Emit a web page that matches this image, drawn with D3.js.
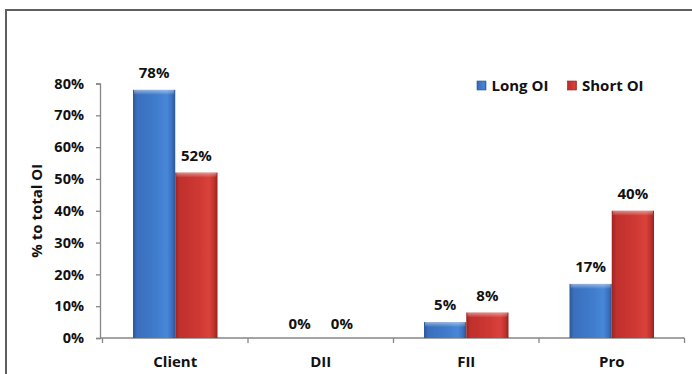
<!DOCTYPE html>
<html>
<head>
<meta charset="utf-8">
<script src="https://cdn.jsdelivr.net/npm/d3@7"></script>
<style>
  html, body { margin: 0; padding: 0; background: #fff; }
  svg { display: block; font-family: "Open Sans", "Lato", sans-serif; font-weight: 700; }
</style>
</head>
<body>
<svg id="chart" width="692" height="374"></svg>
<script>
// Share of total open interest by participant type
const categories = ["Client", "DII", "FII", "Pro"];
const longOI  = [78, 0, 5, 17];
const shortOI = [52, 0, 8, 40];
const seriesNames = ["Long OI", "Short OI"];
const yTicks = [0, 10, 20, 30, 40, 50, 60, 70, 80];

const svg = d3.select("#chart");
const margin = { left: 100 };

// outer chart frame
svg.append("rect")
  .attr("x", 6).attr("y", 10)
  .attr("width", 720).attr("height", 400)
  .attr("fill", "#fff").attr("stroke", "#5f5f5f").attr("stroke-width", 2);

const x0 = d3.scaleBand().domain(categories).range([102.5, 684.5]).paddingInner(0).paddingOuter(0);
const x1 = d3.scaleBand().domain(seriesNames).range([0, 84.5]);
const y = d3.scaleLinear().domain([0, 80]).range([338, 83.5]);

// gradients for the bevelled bars
const defs = svg.append("defs");
function barGradient(id, stops) {
  const g = defs.append("linearGradient").attr("id", id)
    .attr("x1", "0%").attr("x2", "100%").attr("y1", "0%").attr("y2", "0%");
  stops.forEach(([o, c]) => g.append("stop").attr("offset", o).attr("stop-color", c));
}
barGradient("gBlue", [["0%", "#2b5797"], ["10%", "#3a6fbd"], ["55%", "#3f7ccc"], ["80%", "#4887d8"], ["92%", "#3b71bf"], ["100%", "#2a5594"]]);
barGradient("gRed", [["0%", "#9c2422"], ["10%", "#bf302c"], ["55%", "#cf3833"], ["80%", "#d9423b"], ["92%", "#c0322d"], ["100%", "#952220"]]);
const topShine = defs.append("linearGradient").attr("id", "gTop")
  .attr("x1", "0%").attr("x2", "0%").attr("y1", "0%").attr("y2", "100%");
topShine.append("stop").attr("offset", "0%").attr("stop-color", "#fff").attr("stop-opacity", 0.45);
topShine.append("stop").attr("offset", "100%").attr("stop-color", "#fff").attr("stop-opacity", 0);

const blur = defs.append("filter").attr("id", "soft").attr("x", "-20%").attr("y", "-20%").attr("width", "140%").attr("height", "140%");
blur.append("feGaussianBlur").attr("stdDeviation", 0.5);

const fills = { "Long OI": "url(#gBlue)", "Short OI": "url(#gRed)" };

// y axis
const yAxis = d3.axisLeft(y).tickValues(yTicks).tickFormat(d => d + "%").tickSize(4).tickPadding(12);
const gy = svg.append("g").attr("transform", `translate(${margin.left},0)`).call(yAxis);
gy.select(".domain").attr("stroke", "#868686").attr("stroke-width", 1.3);
gy.selectAll(".tick line").attr("stroke", "#868686").attr("stroke-width", 1.3);
gy.selectAll(".tick text").attr("font-size", 14.5).attr("font-weight", 700)
  .attr("font-family", "'Open Sans', sans-serif").attr("fill", "#111");

// x axis with ticks at category boundaries
const gx = svg.append("g").attr("transform", `translate(0,${y(0)})`);
gx.append("line").attr("x1", margin.left).attr("x2", x0.range()[1])
  .attr("y1", 0).attr("y2", 0).attr("stroke", "#868686").attr("stroke-width", 1.5);
const bounds = categories.map(c => x0(c)).concat([x0.range()[1]]);
gx.selectAll("line.tk").data(bounds).join("line").attr("class", "tk")
  .attr("x1", d => d).attr("x2", d => d).attr("y1", 0).attr("y2", 5)
  .attr("stroke", "#868686").attr("stroke-width", 1.3);
gx.selectAll("text").data(categories).join("text")
  .attr("x", d => x0(d) + x0.bandwidth() / 2).attr("y", 29)
  .attr("text-anchor", "middle").attr("font-size", 15).attr("fill", "#111")
  .text(d => d);

// y axis title
svg.append("text")
  .attr("transform", `translate(42,${(y(0) + y(80)) / 2}) rotate(-90)`)
  .attr("text-anchor", "middle").attr("font-size", 15).attr("fill", "#111")
  .text("% to total OI");

// bars
const rows = categories.map((c, i) => ({ cat: c, vals: [
  { key: "Long OI", v: longOI[i] }, { key: "Short OI", v: shortOI[i] }] }));
const groupOffset = (x0.bandwidth() - 84.5) / 2;
const grp = svg.append("g").selectAll("g").data(rows).join("g")
  .attr("transform", d => `translate(${x0(d.cat) + groupOffset},0)`);

const bar = grp.selectAll("g.bar").data(d => d.vals).join("g").attr("class", "bar");
bar.append("rect")
  .attr("x", d => x1(d.key)).attr("width", x1.bandwidth())
  .attr("y", d => y(d.v)).attr("height", d => y(0) - y(d.v))
  .attr("fill", d => fills[d.key]).attr("filter", "url(#soft)");
bar.filter(d => d.v > 0).append("rect")
  .attr("x", d => x1(d.key) + 1).attr("width", x1.bandwidth() - 2)
  .attr("y", d => y(d.v)).attr("height", d => Math.min(5, y(0) - y(d.v)))
  .attr("fill", "url(#gTop)");

// value labels
bar.append("text")
  .attr("x", d => x1(d.key) + x1.bandwidth() / 2)
  .attr("y", d => y(d.v) - (d.v === 0 ? 9 : 12))
  .attr("text-anchor", "middle").attr("font-size", 15).attr("fill", "#111")
  .text(d => d.v + "%");

// legend
const legend = svg.append("g");
const legendItems = [{ key: "Long OI", x: 477 }, { key: "Short OI", x: 567.5 }];
const li = legend.selectAll("g").data(legendItems).join("g")
  .attr("transform", d => `translate(${d.x},81)`);
li.append("rect").attr("width", 9).attr("height", 9)
  .attr("fill", d => fills[d.key]).attr("stroke", d => d.key === "Long OI" ? "#2b5797" : "#952220").attr("stroke-width", 0.6);
li.append("text").attr("x", 14.5).attr("y", 9.6).attr("font-size", 15).attr("fill", "#111")
  .text(d => d.key);
</script>
</body>
</html>
